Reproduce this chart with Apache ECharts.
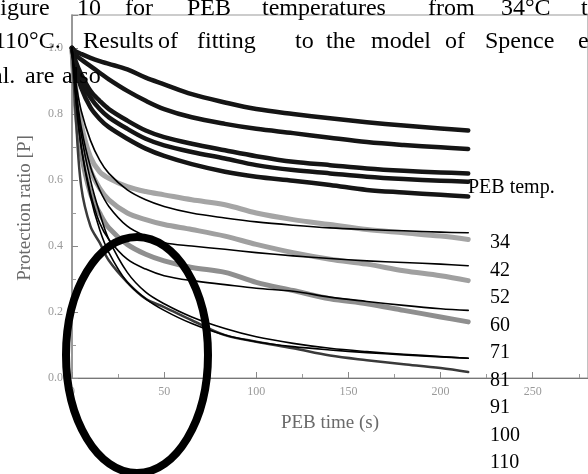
<!DOCTYPE html>
<html>
<head>
<meta charset="utf-8">
<script src="https://cdn.jsdelivr.net/npm/echarts@6/dist/echarts.min.js"></script>
<style>html,body{margin:0;padding:0;background:#fff;}#c{width:588px;height:474px;}</style>
</head>
<body>
<div id="c"></div>
<script>
// PEB time samples (s)
const times = [0, 2, 5, 10, 15, 20, 30, 40, 50, 65, 83, 100, 120, 140, 160, 180, 200, 215];
// Measured protection ratio, black-dot curves (34..71 C)
const data34 = [1.0, 0.99, 0.982, 0.97, 0.96, 0.952, 0.935, 0.91, 0.89, 0.86, 0.835, 0.815, 0.80, 0.787, 0.775, 0.765, 0.756, 0.75];
const data42 = [1.0, 0.98, 0.965, 0.945, 0.925, 0.905, 0.87, 0.84, 0.815, 0.79, 0.77, 0.755, 0.742, 0.728, 0.715, 0.706, 0.699, 0.694];
const data52 = [1.0, 0.96, 0.92, 0.87, 0.84, 0.815, 0.78, 0.75, 0.73, 0.71, 0.69, 0.672, 0.655, 0.645, 0.635, 0.628, 0.623, 0.62];
const data60 = [1.0, 0.95, 0.9, 0.85, 0.815, 0.79, 0.755, 0.725, 0.705, 0.685, 0.665, 0.645, 0.63, 0.62, 0.61, 0.603, 0.598, 0.595];
const data71 = [1.0, 0.94, 0.88, 0.82, 0.785, 0.76, 0.725, 0.695, 0.673, 0.648, 0.625, 0.61, 0.598, 0.585, 0.57, 0.562, 0.555, 0.55];
// Measured, grey-dot curves (81..100 C) and bottom curve (110 C)
const data81 = [1.0, 0.88, 0.77, 0.67, 0.625, 0.605, 0.58, 0.565, 0.555, 0.54, 0.525, 0.5, 0.48, 0.465, 0.45, 0.44, 0.43, 0.42];
const data91 = [1.0, 0.86, 0.74, 0.63, 0.575, 0.54, 0.5, 0.48, 0.465, 0.45, 0.43, 0.405, 0.38, 0.36, 0.345, 0.325, 0.31, 0.295];
const data100 = [1.0, 0.82, 0.68, 0.56, 0.5, 0.455, 0.405, 0.375, 0.355, 0.335, 0.32, 0.29, 0.265, 0.24, 0.225, 0.205, 0.185, 0.17];
const data110 = [1.0, 0.8, 0.58, 0.46, 0.41, 0.356, 0.29, 0.24, 0.215, 0.175, 0.13, 0.11, 0.09, 0.068, 0.054, 0.042, 0.03, 0.018];
// Fitted curves (model of Spence et al.)
const fit81 = [1.0, 0.9, 0.81, 0.72, 0.66, 0.62, 0.57, 0.54, 0.52, 0.5, 0.485, 0.473, 0.463, 0.455, 0.45, 0.446, 0.442, 0.44];
const fit91 = [1.0, 0.88, 0.76, 0.64, 0.57, 0.52, 0.46, 0.43, 0.41, 0.4, 0.39, 0.38, 0.37, 0.362, 0.355, 0.35, 0.345, 0.34];
const fit100 = [1.0, 0.85, 0.7, 0.56, 0.47, 0.42, 0.36, 0.33, 0.31, 0.295, 0.283, 0.272, 0.263, 0.245, 0.232, 0.22, 0.21, 0.205];
const fit110a = [1.0, 0.86, 0.7, 0.55, 0.45, 0.38, 0.29, 0.24, 0.205, 0.165, 0.13, 0.11, 0.095, 0.085, 0.077, 0.07, 0.064, 0.06];
const fit110b = [1.0, 0.88, 0.74, 0.6, 0.5, 0.42, 0.32, 0.26, 0.225, 0.185, 0.15, 0.125, 0.105, 0.09, 0.08, 0.072, 0.065, 0.06];
// Right-hand temperature list
const tempTitle = 'PEB temp.';
const tempLabels = ['34', '42', '52', '60', '71', '81', '91', '100', '110'];
// Overlaid caption text (three lines, words)
const captionLine1 = ['Figure', '10', 'for', 'PEB', 'temperatures', 'from', '34°C', 't'];
const captionLine2 = ['110°C.', 'Results', 'of', 'fitting', 'to', 'the', 'model', 'of', 'Spence', 'e'];
const captionLine3 = ['al.', 'are', 'also'];

const pairs = arr => times.map((t, i) => [t, arr[i]]);
const serif = '"Liberation Serif", "DejaVu Serif", serif';

function dataLine(arr, color, width, z) {
  return { type: 'line', data: pairs(arr), showSymbol: false, smooth: 0.35, silent: true,
    lineStyle: { color: color, width: width, cap: 'round', join: 'round' }, z: z };
}

const series = [
  dataLine(data34, '#151515', 4.5, 3),
  dataLine(data42, '#151515', 4.5, 3),
  dataLine(data52, '#151515', 4.5, 3),
  dataLine(data60, '#151515', 4.5, 3),
  dataLine(data71, '#151515', 4.5, 3),
  dataLine(data81, '#a5a5a5', 5, 2),
  dataLine(data91, '#a0a0a0', 5, 2),
  dataLine(data100, '#8f8f8f', 5, 2),
  dataLine(data110, '#3a3a3a', 2.5, 2),
  dataLine(fit81, '#000', 1.6, 4),
  dataLine(fit91, '#000', 1.6, 4),
  dataLine(fit100, '#000', 1.6, 4),
  dataLine(fit110a, '#000', 1.6, 4),
  dataLine(fit110b, '#000', 1.6, 4)
];

// word positions (layout only)
const capFont = 24;
const x1 = [-13, 77, 125, 187, 262, 428, 501, 581];
const x2 = [-6, 83, 158, 197, 295, 326, 371, 445, 485, 578];
const x3 = [-8, 25, 62];
const graphics = [];
function addWords(words, xs, baseline) {
  words.forEach((w, i) => graphics.push({ type: 'text', z: 100, left: xs[i], top: baseline - 18, silent: true,
    style: { text: w, font: capFont + 'px ' + serif, fill: '#000' } }));
}
addWords(captionLine1, x1, 15);
addWords(captionLine2, x2, 48);
addWords(captionLine3, x3, 83);
graphics.push({ type: 'text', z: 100, left: 468, top: 178, silent: true,
  style: { text: tempTitle, font: '20px ' + serif, fill: '#000' } });
tempLabels.forEach((s, i) => graphics.push({ type: 'text', z: 100, left: 490, top: 250 - 17 + i * 27.5, silent: true,
  style: { text: s, font: '20px ' + serif, fill: '#000' } }));
graphics.push({ type: 'text', z: 50, x: 25, y: 208, rotation: Math.PI / 2, silent: true,
  style: { text: 'Protection ratio [P]', font: '19px ' + serif, fill: '#6a6a6a', align: 'center', verticalAlign: 'middle' } });
graphics.push({ type: 'ellipse', z: 101, silent: true, shape: { cx: 137, cy: 355, rx: 71, ry: 118 },
  style: { fill: 'none', stroke: '#000', lineWidth: 8 } });

const chart = echarts.init(document.getElementById('c'), null, { renderer: 'canvas' });
chart.setOption({
  animation: false,
  backgroundColor: '#fff',
  grid: { left: 72, top: 15, right: -16, bottom: 96, show: true, borderColor: '#9a9a9a', borderWidth: 1.2 },
  xAxis: {
    type: 'value', min: 0, max: 280, interval: 50,
    name: 'PEB time (s)', nameLocation: 'middle', nameGap: 36,
    nameTextStyle: { fontFamily: serif, fontSize: 19, color: '#6a6a6a' },
    axisLine: { lineStyle: { color: '#777', width: 1.2 } },
    axisTick: { inside: true, length: 6, lineStyle: { color: '#888' } },
    minorTick: { show: true, splitNumber: 2, length: 4, lineStyle: { color: '#999' } },
    axisLabel: { fontFamily: serif, fontSize: 12, color: '#9a9a9a', margin: 8, showMaxLabel: false },
    splitLine: { show: false }
  },
  yAxis: {
    type: 'value', min: 0, max: 1.1, interval: 0.2,
    axisLine: { lineStyle: { color: '#8a8a8a', width: 1.5 } },
    axisTick: { inside: true, length: 6, lineStyle: { color: '#888' } },
    minorTick: { show: true, splitNumber: 2, length: 4, lineStyle: { color: '#999' } },
    axisLabel: { fontFamily: serif, fontSize: 12, color: '#9a9a9a', margin: 9, showMaxLabel: false,
      formatter: v => v.toFixed(1) },
    splitLine: { show: false }
  },
  series: series,
  graphic: graphics
});
</script>
</body>
</html>
